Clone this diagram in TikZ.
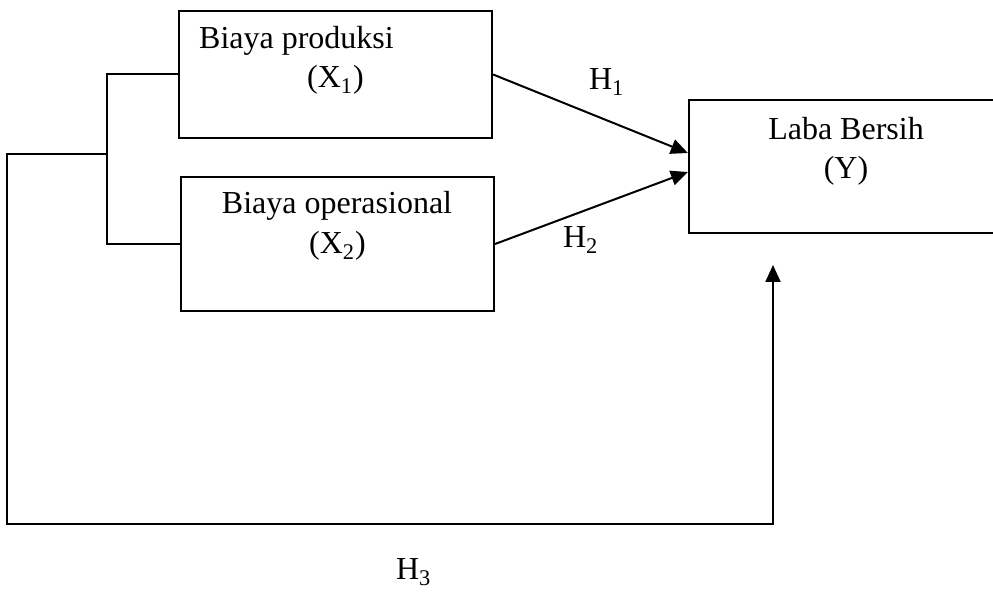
\documentclass[tikz,border=0pt]{standalone}
\usepackage{fontspec}
\setmainfont{Liberation Serif}
\usepackage{tikz}
\usetikzlibrary{arrows.meta}

\begin{document}
\begin{tikzpicture}[x=0.5pt,y=-0.5pt,line width=1pt]
      \tikzstyle{every node} = [inner sep = 0pt, font=\fontsize{16}{19.5}\selectfont];
      \tikzstyle{var} = [draw, rectangle, line width=1.1pt];
      \tikzstyle{hyp} = [->, >={Triangle[length=8.5pt,width=7.5pt]}];
      \useasboundingbox (0,0) rectangle (993,592);
      \clip (0,0) rectangle (993,592);
      % the three variables
      \node(x1) [var, minimum width=156.5pt, minimum height=63.5pt] at (335.5,74.5) {};
      \node(x2) [var, minimum width=156.5pt, minimum height=67pt] at (337.5,244) {};
      \node(y) [var, minimum width=157pt, minimum height=66.5pt] at (846,166.5) {};
      \node(x1a) [anchor=base] at (296.5,49) {Biaya produksi};
      \node(x1b) [anchor=base] at (335.5,88) {(X\textsubscript{1})};
      \node(x2a) [anchor=base] at (337,214) {Biaya operasional};
      \node(x2b) [anchor=base] at (337.5,254) {(X\textsubscript{2})};
      \node(ya) [anchor=base] at (846,140) {Laba Bersih};
      \node(yb) [anchor=base] at (846,179) {(Y)};
      % hypotheses
      \path[hyp] (x1.east) edge ([yshift=6.75pt]y.west);
      \path[hyp] (x2.east) edge ([yshift=-2.75pt]y.west);
      \node(h1) [anchor=base west] at (588,90) {H\textsubscript{1}};
      \node(h2) [anchor=base west] at (562,248) {H\textsubscript{2}};
      \node(h3) [anchor=base west] at (395,580) {H\textsubscript{3}};
      % simultaneous path
      \coordinate (fork) at (107,154);
      \coordinate (corner) at (7,524);
      \coordinate (y3) at (773,265);
      \draw (x1.west) -| (fork) |- (x2.west);
      \draw[hyp] (fork) -| (corner) -| (y3);
\end{tikzpicture}
\end{document}
